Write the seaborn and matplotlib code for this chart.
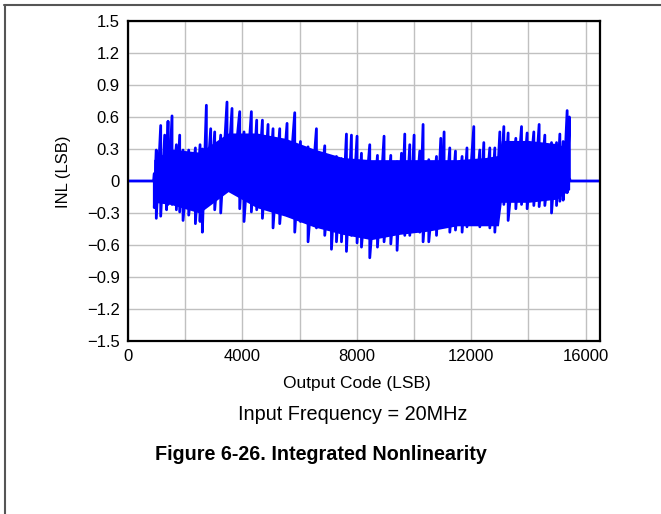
import matplotlib
matplotlib.use("Agg")
import matplotlib.pyplot as plt
import seaborn as sns
import pandas as pd
from matplotlib.lines import Line2D

codes = [0, 900, 920, 990, 1144, 1284, 1350, 1400, 1540, 1692, 1808, 1925,
         2123, 2357, 2520, 2600, 2741, 2892, 3032, 3242, 3462, 3637, 3906,
         4057, 4314, 4500, 4700, 4897, 5071, 5305, 5561, 5830, 6029, 6295,
         6588, 6879, 7113, 7288, 7463, 7637, 7812, 8008, 8162, 8452, 8721,
         8952, 9187, 9407, 9561, 9676, 9851, 10002, 10200, 10316, 10515,
         10785, 10935, 11051, 11250, 11448, 11680, 11850, 12089, 12299,
         12439, 12649, 12824, 12999, 13139, 13289, 13558, 13757, 13953,
         14187, 14373, 14572, 14806, 14981, 15097, 15212, 15352, 15430,
         15460, 16500]

# upper peaks of INL (LSB)
inl_upper = [0, 0, 0.07, 0.29, 0.52, 0.43, 0.40, 0.56, 0.61, 0.34, 0.43, 0.29,
             0.29, 0.31, 0.34, 0.30, 0.71, 0.49, 0.46, 0.43, 0.74, 0.68, 0.65,
             0.46, 0.65, 0.57, 0.57, 0.53, 0.49, 0.49, 0.54, 0.64, 0.37, 0.32,
             0.49, 0.33, 0.21, 0.23, 0.21, 0.44, 0.43, 0.42, 0.26, 0.34, 0.24,
             0.42, 0.24, 0.18, 0.26, 0.44, 0.34, 0.43, 0.28, 0.53, 0.20,
             0.23, 0.40, 0.46, 0.31, 0.28, 0.23, 0.31, 0.51, 0.29,
             0.36, 0.31, 0.31, 0.46, 0.51, 0.45, 0.40, 0.51, 0.45,
             0.46, 0.53, 0.43, 0.36, 0.36, 0.44, 0.37, 0.66, 0.60,
             0, 0]

# lower troughs of INL (LSB)
inl_lower = [0, 0, -0.25, -0.35, -0.33, -0.13, -0.27, -0.22, -0.22, -0.27, -0.29, -0.37,
             -0.32, -0.40, -0.38, -0.48, -0.13, -0.10, -0.27, -0.30, -0.07, -0.10, -0.26,
             -0.38, -0.29, -0.27, -0.35, -0.22, -0.44, -0.40, -0.32, -0.48, -0.38, -0.57,
             -0.44, -0.51, -0.64, -0.57, -0.57, -0.66, -0.51, -0.58, -0.62, -0.72, -0.62,
             -0.57, -0.59, -0.65, -0.48, -0.51, -0.51, -0.44, -0.48, -0.57, -0.57,
             -0.51, -0.41, -0.41, -0.48, -0.46, -0.48, -0.43, -0.38, -0.43,
             -0.38, -0.44, -0.48, -0.19, -0.22, -0.37, -0.26, -0.22, -0.26,
             -0.23, -0.24, -0.23, -0.30, -0.23, -0.19, -0.18, -0.11, 0.03,
             0, 0]

# solid core of the noise band
core_codes = [900, 1500, 2500, 3500, 4500, 5500, 6500, 7500, 8500, 9500,
              10500, 11500, 12500, 12950, 13050, 14000, 15000, 15440]
core_upper = [0.20, 0.30, 0.27, 0.45, 0.45, 0.40, 0.30, 0.22, 0.20, 0.20,
              0.20, 0.20, 0.22, 0.24, 0.38, 0.38, 0.35, 0.30]
core_lower = [-0.20, -0.22, -0.30, -0.10, -0.25, -0.33, -0.43, -0.50, -0.55,
              -0.50, -0.47, -0.42, -0.42, -0.42, -0.20, -0.20, -0.17, -0.08]

x_ticks = [0, 2000, 4000, 6000, 8000, 10000, 12000, 14000, 16000]
x_labels = ["0", "", "4000", "", "8000", "", "12000", "", "16000"]
y_ticks = [1.5, 1.2, 0.9, 0.6, 0.3, 0, -0.3, -0.6, -0.9, -1.2, -1.5]
y_labels = ["1.5", "1.2", "0.9", "0.6", "0.3", "0", "\u22120.3", "\u22120.6",
            "\u22120.9", "\u22121.2", "\u22121.5"]

sns.set_style("white")
plt.rcParams["font.family"] = ["Liberation Sans", "DejaVu Sans"]
plt.rcParams["text.color"] = "black"
plt.rcParams["axes.labelcolor"] = "black"
plt.rcParams["xtick.color"] = "black"
plt.rcParams["ytick.color"] = "black"

# zig-zag trace: at each code go to the peak then the trough
trace = pd.DataFrame({
    "code": [c for c in codes for _ in (0, 1)],
    "inl": [v for pair in zip(inl_upper, inl_lower) for v in pair],
})

fig = plt.figure(figsize=(6.61, 5.14), dpi=100)
ax = fig.add_axes([0.1936, 0.3366, 0.7141, 0.6226])

ax.fill_between(core_codes, core_lower, core_upper, color="#0000FF", lw=0)
sns.lineplot(x="code", y="inl", data=trace, sort=False, estimator=None,
             color="#0000FF", lw=2, ax=ax)

ax.set_xlim(0, 16500)
ax.set_ylim(-1.5, 1.5)
ax.set_xticks(x_ticks)
ax.set_xticklabels(x_labels, fontsize=12)
ax.set_yticks(y_ticks)
ax.set_yticklabels(y_labels, fontsize=12)
ax.tick_params(length=0, pad=6)
ax.grid(True, color="#C0C0C0", lw=1)
for s in ax.spines.values():
    s.set_color("black")
    s.set_linewidth(1.6)

ax.set_xlabel("Output Code (LSB)", fontsize=12.5)
ax.xaxis.set_label_coords(0.485, -0.11)
ax.set_ylabel("INL (LSB)", fontsize=12)
ax.yaxis.set_label_coords(-0.12, 0.53)

fig.text(353 / 661, 1 - 415 / 514, "Input Frequency = 20MHz", fontsize=14.3,
         ha="center", va="center")
fig.text(321 / 661, 1 - 455 / 514, "Figure 6-26. Integrated Nonlinearity",
         fontsize=14.25, fontweight="bold", ha="center", va="center")

# page frame lines (top and left)
fig.add_artist(Line2D([4 / 661, 1], [1 - 4.5 / 514, 1 - 4.5 / 514],
                      transform=fig.transFigure, color="#555555", lw=1.5))
fig.add_artist(Line2D([4.5 / 661, 4.5 / 661], [0, 1 - 4.5 / 514],
                      transform=fig.transFigure, color="#555555", lw=1.5))

fig.savefig("out.png", dpi=100)
